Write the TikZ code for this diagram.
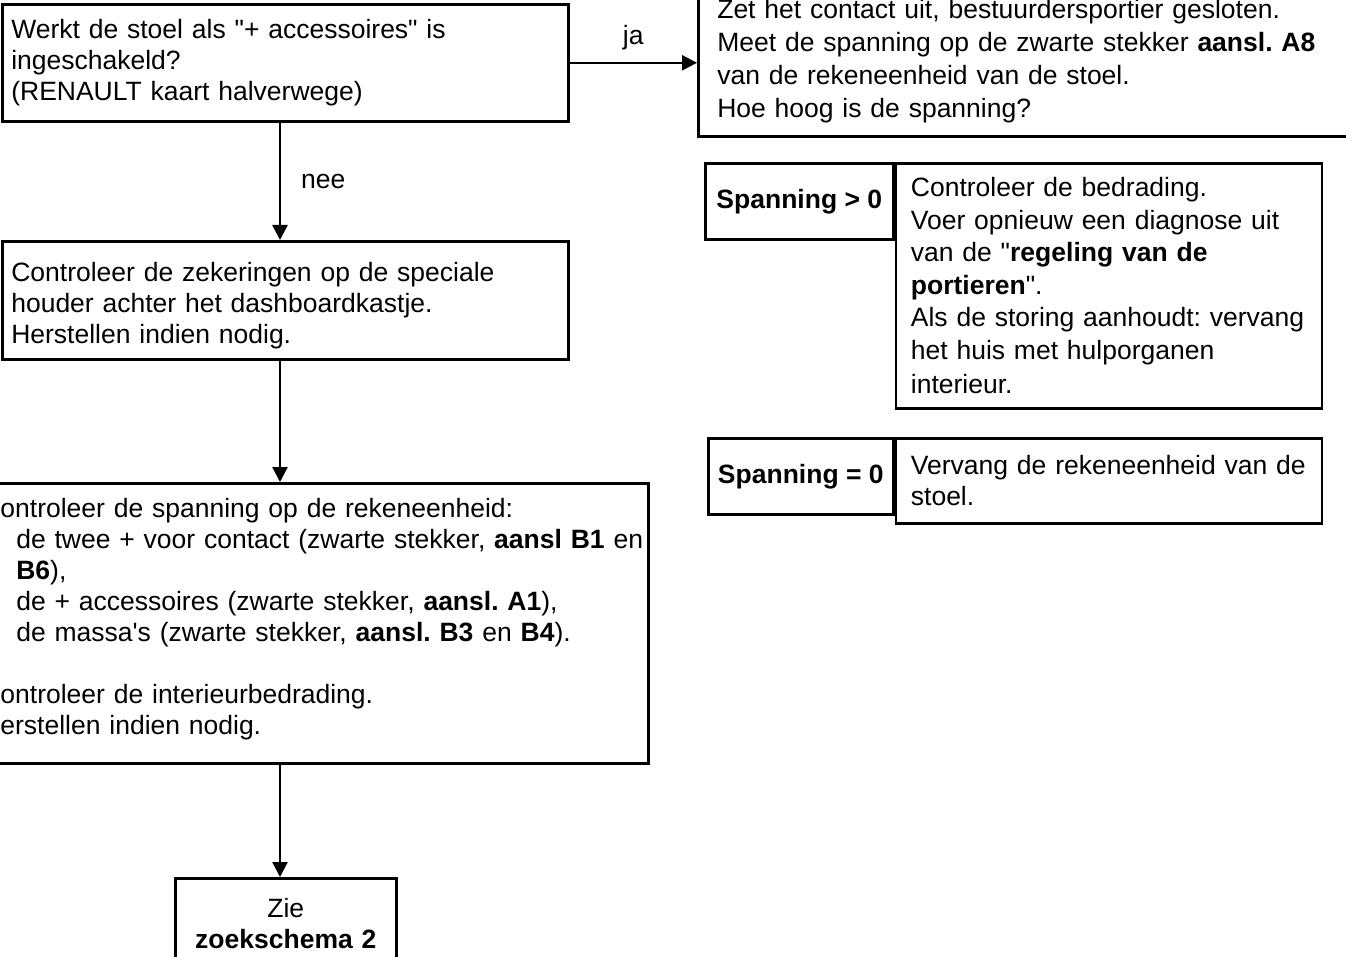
\documentclass[tikz,border=0pt]{standalone}
\usepackage{fontspec}
\setmainfont{Liberation Sans}[Ligatures=TeXOff]
\usetikzlibrary{arrows.meta, positioning}
\newcommand{\txt}{\fontsize{26.5}{31}\selectfont\frenchspacing}

\begin{document}
\begin{tikzpicture}[
    x=1pt, y=-1pt,
    box/.style={rectangle, draw, line width=2.6pt, align=left, anchor=north west, inner ysep=0pt, inner xsep=9pt, font=\txt},
    kop/.style={box, align=center, inner xsep=4pt, font=\txt\bfseries},
    arrow/.style={-{Triangle[width=15pt, length=15pt]}, line width=2.4pt},
    lbl/.style={font=\txt, inner sep=2pt}
  ]
  \useasboundingbox (0,0) rectangle (1346,957);
  \clip (0,0) rectangle (1346,957);

  % linker kolom
  \node[box, text width=548pt, minimum height=117pt] (vraag) at (1,3)
    {Werkt de stoel als "+ accessoires" is\\ingeschakeld?\\(RENAULT kaart halverwege)};
  \node[box, text width=548pt, minimum height=118pt] (zekering) at (1,240)
    {\rule{0pt}{29pt}Controleer de zekeringen op de speciale\\houder achter het dashboardkastje.\\Herstellen indien nodig.};
  \node[box, inner xsep=12pt, text width=655pt, minimum height=280pt] (meting) at (-32,482)
    {\rule{0pt}{22pt}Controleer de spanning op de rekeneenheid:\\
     \hspace*{35pt}\mbox{de twee + voor contact (zwarte stekker, \textbf{aansl B1} en}\\
     \hspace*{35pt}\textbf{B6}),\\
     \hspace*{35pt}de + accessoires (zwarte stekker, \textbf{aansl. A1}),\\
     \hspace*{35pt}de massa's (zwarte stekker, \textbf{aansl. B3} en \textbf{B4}).\\[31pt]
     Controleer de interieurbedrading.\\Herstellen indien nodig.\rule[-16pt]{0pt}{16pt}};
  \node[box, align=center, text width=203pt, minimum height=91pt] (zie) at (174,877)
    {Zie\\\textbf{zoekschema 2}};

  % rechter kolom
  \node[box, inner xsep=19pt, text width=700pt, minimum height=150pt, font=\fontsize{26.5}{33}\selectfont\frenchspacing] (meet) at (697,-15)
    {Zet het contact uit, bestuurdersportier gesloten.\\Meet de spanning op de zwarte stekker \textbf{aansl. A8}\\van de rekeneenheid van de stoel.\\Hoe hoog is de spanning?};

  \node[kop, minimum width=188pt, minimum height=76pt] (groter) at (704,162) {Spanning > 0};
  \node[box, inner xsep=15pt, text width=396pt, minimum height=245pt, font=\fontsize{26.5}{32.5}\selectfont\frenchspacing] (groteraktie) at (groter.north east)
    {Controleer de bedrading.\\Voer opnieuw een diagnose uit\\van de "\textbf{regeling van de}\\\textbf{portieren}".\\Als de storing aanhoudt: vervang\\het huis met hulporganen\\[2pt]interieur.};

  \node[kop, minimum width=185pt, minimum height=76pt] (nul) at (707,437) {Spanning = 0};
  \node[box, inner xsep=15pt, text width=396pt, minimum height=85pt] (nulaktie) at (nul.north east)
    {Vervang de rekeneenheid van de\\stoel.};

  % pijlen
  \coordinate (lijn) at (280,0);
  \draw[arrow] (vraag.east) -- (vraag.east -| meet.west) node[midway, above=10pt, lbl] {ja};
  \draw[arrow] (vraag.south -| lijn) -- node[right=18pt, lbl] {nee} (zekering.north -| lijn);
  \draw[arrow] (zekering.south -| lijn) -- (meting.north -| lijn);
  \draw[arrow] (meting.south -| lijn) -- (zie.north -| lijn);

\end{tikzpicture}
\end{document}
